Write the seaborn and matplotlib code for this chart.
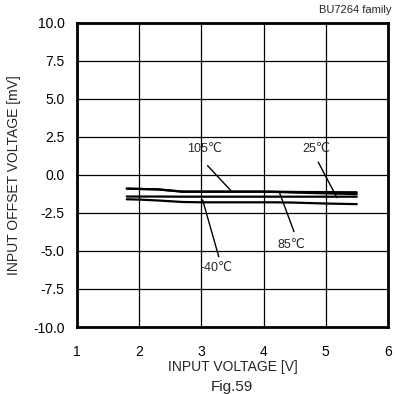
#!/usr/bin/env python3
"""Input offset voltage vs input voltage (BU7264 family, Fig.59)."""

import matplotlib
matplotlib.use("Agg")
import matplotlib.pyplot as plt
import numpy as np
import pandas as pd
import seaborn as sns

# -- data --------------------------------------------------------------------

VIN = [1.8, 2.0, 2.3, 2.7, 3.0, 3.5, 4.0, 4.2, 4.5, 5.0, 5.5]
OFFSET_105 = [-0.90, -0.92, -0.95, -1.10, -1.10, -1.10, -1.10, -1.10, -1.12, -1.13, -1.14]
OFFSET_85 = [-0.90, -0.92, -0.95, -1.10, -1.10, -1.10, -1.10, -1.12, -1.16, -1.21, -1.26]
OFFSET_25 = [-1.42, -1.42, -1.42, -1.43, -1.43, -1.43, -1.43, -1.43, -1.43, -1.43, -1.43]
OFFSET_M40 = [-1.60, -1.62, -1.68, -1.78, -1.80, -1.80, -1.80, -1.80, -1.82, -1.88, -1.92]

TEMPS = ["105", "85", "25", "-40"]
X_TICKS = [1, 2, 3, 4, 5, 6]
Y_TICKS = [-10.0, -7.5, -5.0, -2.5, 0.0, 2.5, 5.0, 7.5, 10.0]

# -- style -------------------------------------------------------------------

sns.set_style("white")
plt.rcParams["font.family"] = ["Liberation Sans", "DejaVu Sans"]


def main() -> None:
    df = pd.DataFrame({
        "Vin": VIN * 4,
        "offset": OFFSET_105 + OFFSET_85 + OFFSET_25 + OFFSET_M40,
        "temp": np.repeat(TEMPS, len(VIN)),
    })

    fig = plt.figure(figsize=(3.95, 3.94), dpi=100)
    ax = fig.add_axes([0.195, 0.170, 0.787, 0.772])

    sns.lineplot(
        data=df, x="Vin", y="offset", hue="temp",
        palette={t: "black" for t in TEMPS},
        linewidth=1.6, legend=False, ax=ax,
    )

    ax.set_xlim(1, 6)
    ax.set_ylim(-10, 10)
    ax.set_xticks(X_TICKS)
    ax.set_yticks(Y_TICKS)
    ax.set_yticklabels([f"{v:.1f}" for v in Y_TICKS])
    ax.tick_params(direction="in", length=3, width=1, labelsize=10,
                   colors="black")
    ax.tick_params(axis="x", pad=13)
    ax.tick_params(axis="y", pad=9)
    ax.grid(True, color="black", linewidth=0.9)
    for sp in ax.spines.values():
        sp.set_linewidth(2)
        sp.set_color("black")

    ax.set_xlabel("INPUT VOLTAGE [V]", fontsize=10, labelpad=1)
    ax.set_ylabel("INPUT OFFSET VOLTAGE [mV]", fontsize=10, labelpad=9)

    # annotations with leader lines
    notes = [
        ("105\u2103", (3.05, 1.71), (3.10, 0.61), (3.49, -1.10)),
        ("25\u2103", (4.85, 1.71), (4.88, 0.84), (5.18, -1.49)),
        ("85\u2103", (4.45, -4.61), (4.26, -1.20), (4.49, -3.73)),
        ("-40\u2103", (3.25, -6.14), (3.02, -1.64), (3.28, -5.38)),
    ]
    for label, txt, p0, p1 in notes:
        ax.text(txt[0], txt[1], label, ha="center", va="center", fontsize=9)
        ax.plot([p0[0], p1[0]], [p0[1], p1[1]], color="black", linewidth=1)

    fig.text(0.992, 0.975, "BU7264 family", ha="right", va="center", fontsize=8)
    fig.text(0.587, 0.0, "Fig.59", ha="center", va="bottom", fontsize=11)

    fig.savefig("out.png", dpi=100)
    plt.close(fig)


if __name__ == "__main__":
    main()
